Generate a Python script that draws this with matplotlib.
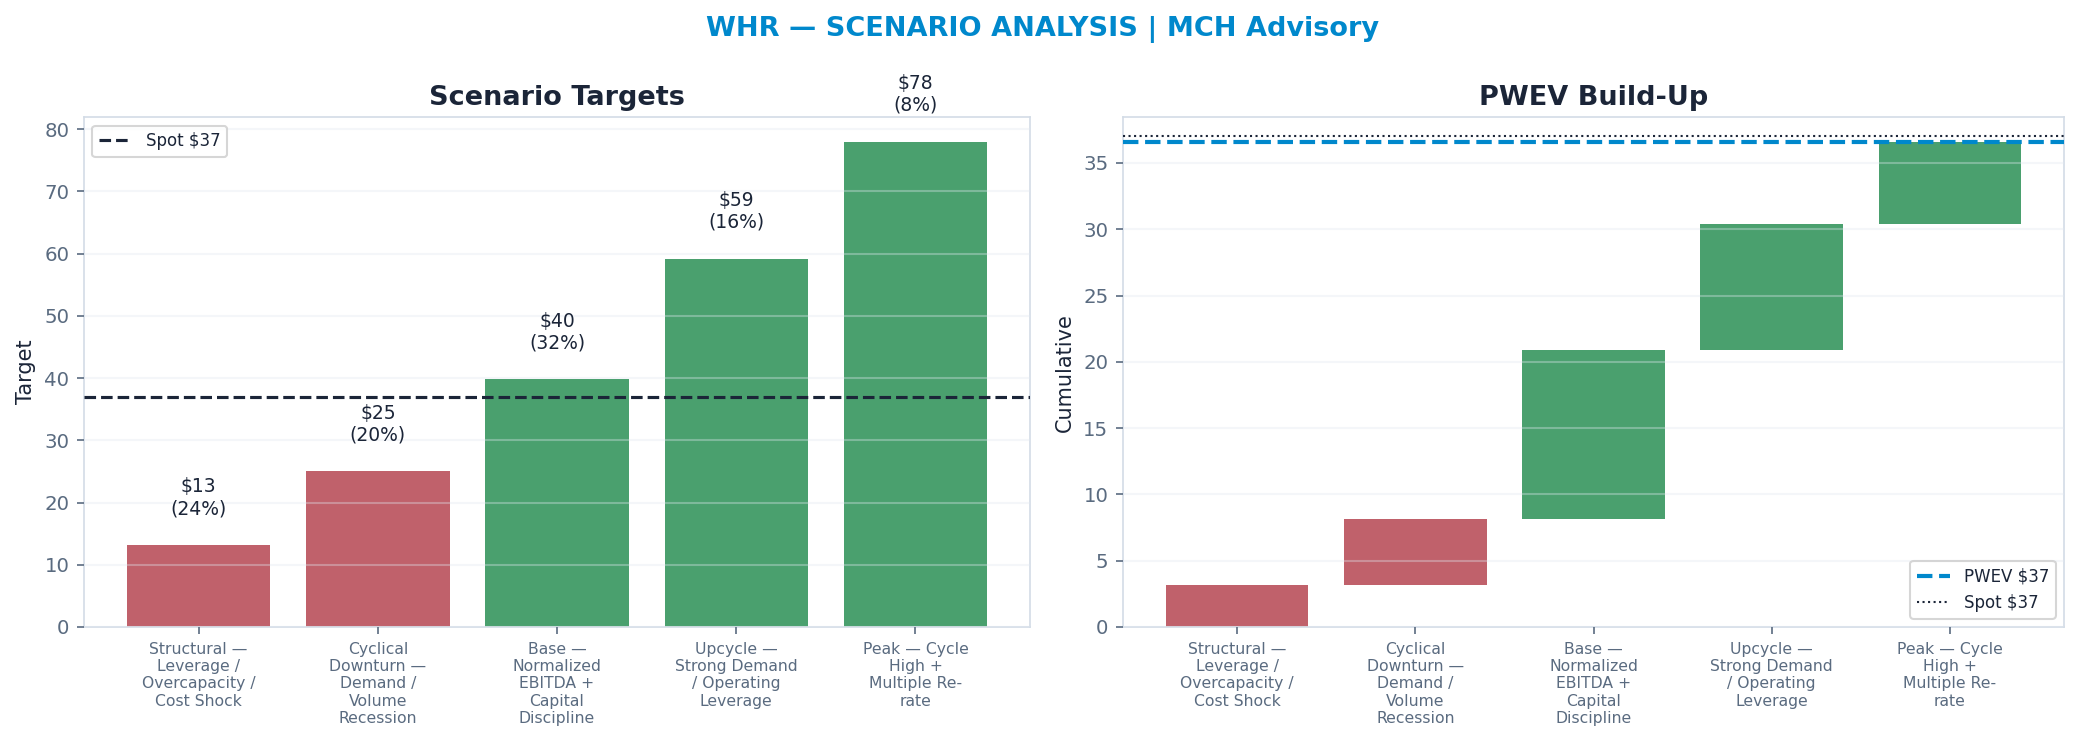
import textwrap
import matplotlib
matplotlib.use("Agg")
import matplotlib.pyplot as plt
import numpy as np

# scenario data
scenarios = [
    "Structural — Leverage / Overcapacity / Cost Shock",
    "Cyclical Downturn — Demand / Volume Recession",
    "Base — Normalized EBITDA + Capital Discipline",
    "Upcycle — Strong Demand / Operating Leverage",
    "Peak — Cycle High + Multiple Re-rate",
]
targets = [13.2, 25.0, 39.8, 59.2, 78.0]
probs = [0.24, 0.20, 0.32, 0.16, 0.08]
spot = 37.0

NAVY = "#1b2538"
SLATE = "#5a6b80"
BLUE = "#0088cc"
RED = "#c0616b"
GREEN = "#4aa06e"
SPINE = "#d3dce6"

plt.rcParams["font.family"] = ["DejaVu Sans"]

fig = plt.figure(figsize=(2084 / 150, 742 / 150), dpi=150)
ax1 = fig.add_axes([0.0403, 0.155, 0.454, 0.687])
ax2 = fig.add_axes([0.5389, 0.155, 0.4515, 0.687])

labels = [textwrap.fill(s, 14) for s in scenarios]
x = np.arange(len(scenarios))
colors = [RED if t < spot else GREEN for t in targets]

# left: targets
ax1.bar(x, targets, width=0.8, color=colors, zorder=1)
ax1.axhline(spot, color=NAVY, ls="--", lw=1.5, label=f"Spot ${spot:.0f}", zorder=3)
for xi, t, p in zip(x, targets, probs):
    ax1.text(xi, t + 4.3, f"${t:.0f}\n({p*100:.0f}%)", ha="center", va="bottom",
             fontsize=9, color=NAVY)
ax1.set_title("Scenario Targets", fontsize=13, fontweight="bold", color=NAVY, pad=6)
ax1.set_ylabel("Target", fontsize=10, color=NAVY)
ax1.legend(loc="upper left", fontsize=8, labelcolor=NAVY, edgecolor="#cccccc")

# right: PWEV waterfall
contrib = [t * p for t, p in zip(targets, probs)]
bottoms = np.concatenate([[0], np.cumsum(contrib)[:-1]])
pwev = sum(contrib)
ax2.bar(x, contrib, bottom=bottoms, width=0.8, color=colors, zorder=1)
ax2.axhline(pwev, color=BLUE, ls="--", lw=2, label=f"PWEV ${pwev:.0f}", zorder=3)
ax2.axhline(spot, color=NAVY, ls=":", lw=1, label=f"Spot ${spot:.0f}", zorder=3)
ax2.set_title("PWEV Build-Up", fontsize=13, fontweight="bold", color=NAVY, pad=6)
ax2.set_ylabel("Cumulative", fontsize=10, color=NAVY)
ax2.legend(loc="lower right", fontsize=8, labelcolor=NAVY, edgecolor="#cccccc")

for ax in (ax1, ax2):
    ax.set_xticks(x)
    ax.set_xticklabels(labels, fontsize=7.5, color=SLATE)
    ax.tick_params(axis="y", labelsize=9.5, labelcolor=SLATE, color=SLATE)
    ax.tick_params(axis="x", color=SLATE)
    ax.grid(axis="y", color="#e2e8f0", alpha=0.35, lw=1, zorder=2)
    ax.set_axisbelow(False)
    for s in ax.spines.values():
        s.set_color(SPINE)

fig.suptitle("WHR — SCENARIO ANALYSIS | MCH Advisory", fontsize=13,
             fontweight="bold", color=BLUE, y=0.978)

fig.savefig("out.png", dpi=150)
